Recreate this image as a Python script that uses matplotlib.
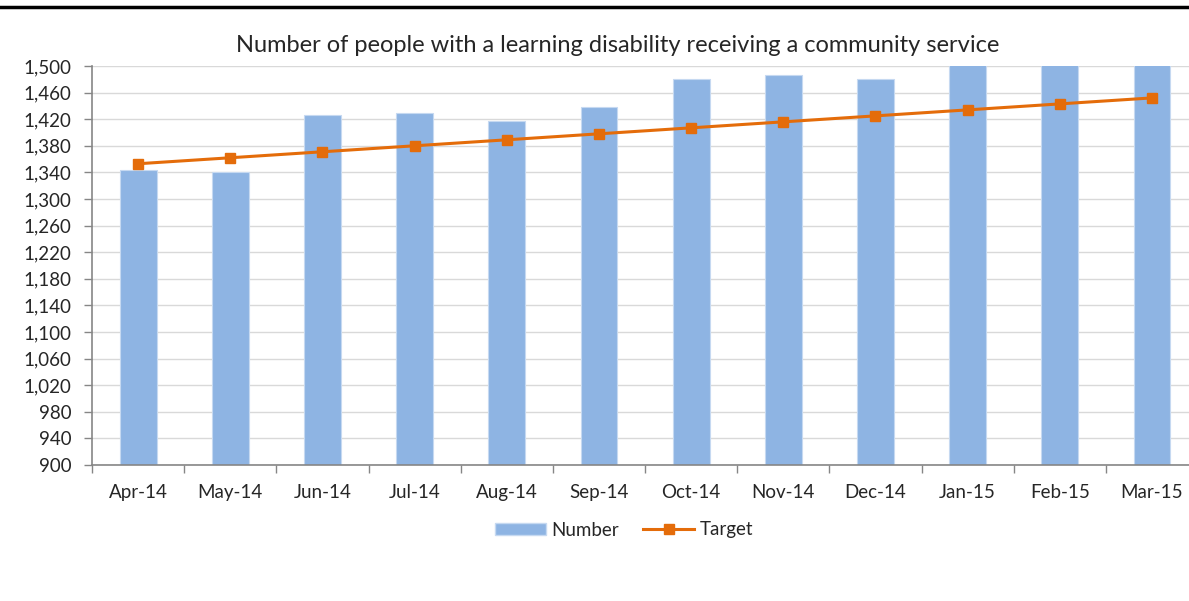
import matplotlib.pyplot as plt
import numpy as np
from matplotlib.lines import Line2D
from matplotlib.patches import Patch

months = ['Apr-14', 'May-14', 'Jun-14', 'Jul-14', 'Aug-14', 'Sep-14',
          'Oct-14', 'Nov-14', 'Dec-14', 'Jan-15', 'Feb-15', 'Mar-15']
number = [1343, 1341, 1426, 1430, 1417, 1438, 1480, 1487, 1481, 1510, 1518, 1525]
target = [1353, 1362, 1371, 1380, 1389, 1398, 1407, 1416, 1425, 1434, 1443, 1452]
yticks = list(range(900, 1501, 40))

plt.rcParams['font.family'] = ['Lato', 'DejaVu Sans']

fig = plt.figure(figsize=(11.89, 6.01), dpi=100)
ax = fig.add_axes([0.0774, 0.2263, 0.9302, 0.6639])

x = np.arange(len(months))
ax.bar(x, number, width=0.4, color='#8EB4E3', edgecolor='#C6D9F1', linewidth=0.8,
       zorder=2)
ax.plot(x, target, color='#E46C0A', linewidth=2.2, marker='s', markersize=7.5,
        zorder=3)

ax.set_xlim(-0.5, len(months) - 0.5)
ax.set_ylim(900, 1500)
ax.set_yticks(yticks)
ax.set_yticklabels([f'{v:,}' for v in yticks], fontsize=13.5, color='#262626')
ax.set_xticks(x)
ax.set_xticklabels(months, fontsize=13.5, color='#262626')
ax.set_xticks(np.arange(len(months) + 1) - 0.5, minor=True)
ax.tick_params(axis='x', which='major', length=0, pad=14)
ax.tick_params(axis='x', which='minor', length=6, color='#868686', width=1)
ax.tick_params(axis='y', length=6, color='#868686', width=1, pad=9)
ax.grid(axis='y', color='#D9D9D9', linewidth=1, zorder=0)

for s in ['top', 'right']:
    ax.spines[s].set_visible(False)
for s in ['left', 'bottom']:
    ax.spines[s].set_color('#868686')
    ax.spines[s].set_linewidth(1.2)

fig.text(618 / 1189, 1 - 45 / 601,
         'Number of people with a learning disability receiving a community service',
         ha='center', va='center', fontsize=17, color='#262626')

handles = [Patch(facecolor='#8EB4E3', edgecolor='#C6D9F1'),
           Line2D([0], [0], color='#E46C0A', linewidth=2.2, marker='s', markersize=7.5)]
fig.legend(handles, ['Number', 'Target'], loc='center', ncol=2,
           bbox_to_anchor=(624 / 1189, 1 - 530 / 601), frameon=False,
           fontsize=13.5, handlelength=2.7, handleheight=0.6, columnspacing=1.3,
           handletextpad=0.3, labelcolor='#262626')

fig.add_artist(Line2D([0, 1], [1 - 7 / 601, 1 - 7 / 601], color='black',
                      linewidth=2.5, transform=fig.transFigure))

fig.savefig('out.png', dpi=100)
